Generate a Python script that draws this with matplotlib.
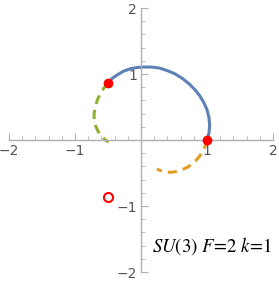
import matplotlib
matplotlib.use("Agg")
import matplotlib.pyplot as plt
from matplotlib.ticker import MultipleLocator

# curve points
blue_x = [1.0, 1.03, 1.04, 1.03, 1.0, 0.95, 0.89, 0.82, 0.73, 0.63, 0.52, 0.40, 0.28, 0.16, 0.06, -0.05, -0.16, -0.27, -0.37, -0.44, -0.5]
blue_y = [0.0, 0.1, 0.22, 0.34, 0.46, 0.57, 0.67, 0.76, 0.85, 0.93, 1.0, 1.05, 1.09, 1.105, 1.106, 1.10, 1.08, 1.04, 0.98, 0.93, 0.866]

green_x = [-0.5, -0.56, -0.62, -0.66, -0.69, -0.71, -0.71, -0.69, -0.65, -0.6, -0.54, -0.49]
green_y = [0.866, 0.79, 0.70, 0.61, 0.51, 0.41, 0.31, 0.22, 0.13, 0.06, 0.0, -0.03]

orange_x = [1.0, 0.97, 0.92, 0.86, 0.79, 0.71, 0.62, 0.53, 0.44, 0.36, 0.29, 0.24]
orange_y = [0.0, -0.1, -0.2, -0.28, -0.35, -0.41, -0.45, -0.48, -0.49, -0.48, -0.46, -0.44]

dots_x = [-0.5, 1.0]
dots_y = [0.866, 0.0]
hollow_x = [-0.5]
hollow_y = [-0.866]

ticks = [-2, -1, 1, 2]
label = r"$SU\mathrm{(3)}\ F\!=\!2\ k\!=\!1$"

plt.rcParams["mathtext.fontset"] = "stix"

fig = plt.figure(figsize=(2.79, 2.84), dpi=100)
ax = fig.add_axes([9 / 279, 12 / 284, 264 / 279, 264 / 284])

ax.plot(blue_x, blue_y, color="#5E81B5", lw=2.2, solid_capstyle="butt")
ax.plot(green_x, green_y, color="#8FB032", lw=2.2, ls=(0, (3, 2)))
ax.plot(orange_x, orange_y, color="#E19C24", lw=2.2, ls=(0, (3, 2)))
ax.plot(dots_x, dots_y, "o", color="red", ms=6, zorder=5)
ax.plot(hollow_x, hollow_y, "o", mfc="white", mec="red", mew=1.5, ms=6.5, zorder=5)

ax.text(0.17, -1.6, label, fontsize=13.5, color="black", va="center")

ax.set_xlim(-2, 2)
ax.set_ylim(-2, 2)
ax.spines["left"].set_position("zero")
ax.spines["bottom"].set_position("zero")
ax.spines["top"].set_visible(False)
ax.spines["right"].set_visible(False)
for s in ["left", "bottom"]:
    ax.spines[s].set_color("#b0b0b0")
    ax.spines[s].set_linewidth(1.0)

ax.set_xticks(ticks)
ax.set_yticks(ticks)
ax.set_xticklabels(["\u22122", "\u22121", "1", "2"])
ax.set_yticklabels(["\u22122", "\u22121", "1", "2"])
ax.xaxis.set_minor_locator(MultipleLocator(0.2))
ax.yaxis.set_minor_locator(MultipleLocator(0.2))
ax.tick_params(which="major", direction="in", length=5, width=0.8, color="#b0b0b0",
               labelsize=10, labelcolor="#555555", pad=3)
ax.tick_params(which="minor", direction="in", length=3, width=0.6, color="#b0b0b0")
ax.patch.set_visible(False)

fig.savefig("out.png", dpi=100)
